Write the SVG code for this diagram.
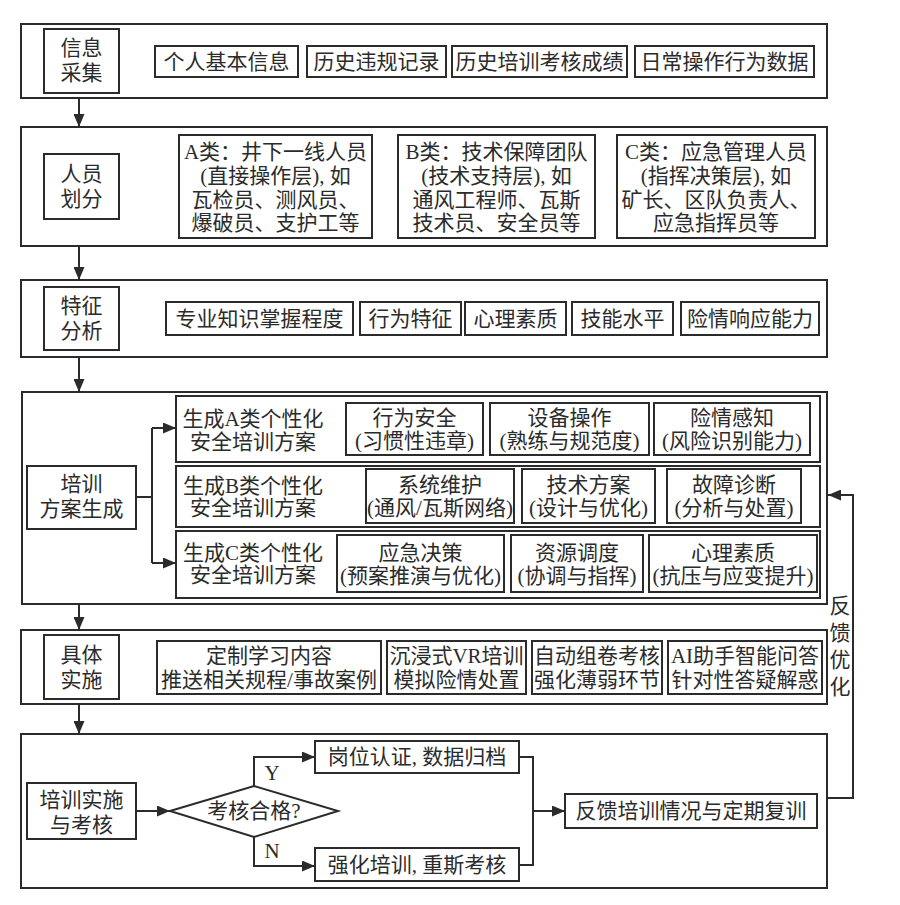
<svg xmlns="http://www.w3.org/2000/svg" width="900" height="905" viewBox="0 0 900 905">
<style>
.f{fill:#fff;stroke:#2b2b2b;stroke-width:2}
.t{font-family:'Liberation Serif','Noto Sans CJK SC',serif;font-size:21px;fill:#2b2b2b;text-anchor:middle;dominant-baseline:central}
.c{fill:none;stroke:#2b2b2b;stroke-width:2}
</style>
<defs>
<marker id="ah" markerUnits="userSpaceOnUse" markerWidth="13" markerHeight="11" refX="13" refY="5.5" orient="auto">
<path d="M0,0 L13,5.5 L0,11 z" fill="#2b2b2b"/>
</marker>
</defs>
<rect width="900" height="905" fill="#fff"/>

<g id="sec1">
<rect class="f" x="21" y="24" width="806" height="74"/>
<g id="n_info"><rect class="f" x="44" y="29" width="75" height="64"/><text class="t" x="81.5" y="48">信息</text><text class="t" x="81.5" y="73">采集</text></g>
<g id="n_i1"><rect class="f" x="155" y="46" width="143" height="31"/><text class="t" x="226.5" y="61.5">个人基本信息</text></g>
<g id="n_i2"><rect class="f" x="307" y="46" width="139" height="31"/><text class="t" x="376.5" y="61.5">历史违规记录</text></g>
<g id="n_i3"><rect class="f" x="452" y="46" width="175" height="31"/><text class="t" x="539.5" y="61.5">历史培训考核成绩</text></g>
<g id="n_i4"><rect class="f" x="635" y="46" width="179" height="31"/><text class="t" x="724.5" y="61.5">日常操作行为数据</text></g>
</g>

<g id="sec2">
<rect class="f" x="21" y="127" width="806" height="119"/>
<g id="n_person"><rect class="f" x="44" y="154" width="75" height="65"/><text class="t" x="81.5" y="174">人员</text><text class="t" x="81.5" y="199">划分</text></g>
<g id="n_A"><rect class="f" x="179" y="135" width="193" height="103"/>
<text class="t" x="275.5" y="152">A类：井下一线人员</text><text class="t" x="275.5" y="176">(直接操作层), 如</text><text class="t" x="275.5" y="200">瓦检员、测风员、</text><text class="t" x="275.5" y="223">爆破员、支护工等</text></g>
<g id="n_B"><rect class="f" x="398" y="135" width="197" height="103"/>
<text class="t" x="496.5" y="152">B类：技术保障团队</text><text class="t" x="496.5" y="176">(技术支持层), 如</text><text class="t" x="496.5" y="200">通风工程师、瓦斯</text><text class="t" x="496.5" y="223">技术员、安全员等</text></g>
<g id="n_C"><rect class="f" x="617" y="135" width="198" height="103"/>
<text class="t" x="716" y="152">C类：应急管理人员</text><text class="t" x="716" y="176">(指挥决策层), 如</text><text class="t" x="716" y="200">矿长、区队负责人、</text><text class="t" x="716" y="223">应急指挥员等</text></g>
</g>

<g id="sec3">
<rect class="f" x="21" y="280" width="806" height="77"/>
<g id="n_feat"><rect class="f" x="44" y="287" width="75" height="63"/><text class="t" x="81.5" y="306">特征</text><text class="t" x="81.5" y="331">分析</text></g>
<g id="n_f1"><rect class="f" x="166" y="302" width="187" height="33"/><text class="t" x="259.5" y="318.5">专业知识掌握程度</text></g>
<g id="n_f2"><rect class="f" x="360" y="302" width="101" height="33"/><text class="t" x="410.5" y="318.5">行为特征</text></g>
<g id="n_f3"><rect class="f" x="465" y="302" width="101" height="33"/><text class="t" x="515.5" y="318.5">心理素质</text></g>
<g id="n_f4"><rect class="f" x="572" y="302" width="101" height="33"/><text class="t" x="622.5" y="318.5">技能水平</text></g>
<g id="n_f5"><rect class="f" x="681" y="302" width="138" height="33"/><text class="t" x="750" y="318.5">险情响应能力</text></g>
</g>

<g id="sec4">
<rect class="f" x="22" y="392" width="805" height="212"/>
<g id="n_plan"><rect class="f" x="27" y="466" width="109" height="63"/><text class="t" x="81.5" y="484">培训</text><text class="t" x="81.5" y="509">方案生成</text></g>
<g id="n_rowA"><rect class="f" x="176" y="396" width="644" height="66"/>
<text class="t" x="253" y="419">生成A类个性化</text><text class="t" x="253" y="442">安全培训方案</text>
<rect class="f" x="346" y="403" width="137" height="52"/><text class="t" x="414.5" y="418">行为安全</text><text class="t" x="414.5" y="441">(习惯性违章)</text>
<rect class="f" x="490" y="403" width="159" height="52"/><text class="t" x="569.5" y="418">设备操作</text><text class="t" x="569.5" y="441">(熟练与规范度)</text>
<rect class="f" x="654" y="403" width="156" height="52"/><text class="t" x="732" y="418">险情感知</text><text class="t" x="732" y="441">(风险识别能力)</text>
</g>
<g id="n_rowB"><rect class="f" x="176" y="466" width="644" height="61"/>
<text class="t" x="253" y="486">生成B类个性化</text><text class="t" x="253" y="508">安全培训方案</text>
<rect class="f" x="366" y="469" width="148" height="54"/><text class="t" x="440" y="485">系统维护</text><text class="t" x="440" y="508">(通风/瓦斯网络)</text>
<rect class="f" x="522" y="469" width="133" height="54"/><text class="t" x="588.5" y="485">技术方案</text><text class="t" x="588.5" y="508">(设计与优化)</text>
<rect class="f" x="667" y="469" width="134" height="54"/><text class="t" x="734" y="485">故障诊断</text><text class="t" x="734" y="508">(分析与处置)</text>
</g>
<g id="n_rowC"><rect class="f" x="176" y="531" width="644" height="67"/>
<text class="t" x="253" y="553">生成C类个性化</text><text class="t" x="253" y="575">安全培训方案</text>
<rect class="f" x="337" y="535" width="167" height="57"/><text class="t" x="420.5" y="553">应急决策</text><text class="t" x="420.5" y="576">(预案推演与优化)</text>
<rect class="f" x="511" y="535" width="132" height="57"/><text class="t" x="577" y="553">资源调度</text><text class="t" x="577" y="576">(协调与指挥)</text>
<rect class="f" x="649" y="535" width="168" height="57"/><text class="t" x="733" y="553">心理素质</text><text class="t" x="733" y="576">(抗压与应变提升)</text>
</g>
</g>

<g id="sec5">
<rect class="f" x="21" y="630" width="806" height="74"/>
<g id="n_impl"><rect class="f" x="44" y="635" width="75" height="64"/><text class="t" x="81.5" y="655">具体</text><text class="t" x="81.5" y="680">实施</text></g>
<g id="n_m1"><rect class="f" x="157" y="641" width="224" height="53"/><text class="t" x="269" y="656">定制学习内容</text><text class="t" x="269" y="680">推送相关规程/事故案例</text></g>
<g id="n_m2"><rect class="f" x="387" y="641" width="139" height="53"/><text class="t" x="456.5" y="656">沉浸式VR培训</text><text class="t" x="456.5" y="680">模拟险情处置</text></g>
<g id="n_m3"><rect class="f" x="532" y="641" width="130" height="53"/><text class="t" x="597" y="656">自动组卷考核</text><text class="t" x="597" y="680">强化薄弱环节</text></g>
<g id="n_m4"><rect class="f" x="668" y="641" width="154" height="53"/><text class="t" x="745" y="656">AI助手智能问答</text><text class="t" x="745" y="680">针对性答疑解惑</text></g>
</g>

<g id="sec6">
<rect class="f" x="21" y="734" width="806" height="154"/>
<g id="n_exam"><rect class="f" x="27" y="783" width="109" height="56"/><text class="t" x="81.5" y="800">培训实施</text><text class="t" x="81.5" y="825">与考核</text></g>
<g id="n_dec"><path class="f" d="M170,811 L254,786 L338,811 L254,837 z"/><text class="t" x="254" y="811">考核合格?</text></g>
<g id="n_pass"><rect class="f" x="315" y="741" width="204" height="32"/><text class="t" x="417" y="757">岗位认证, 数据归档</text></g>
<g id="n_fail"><rect class="f" x="315" y="848" width="204" height="33"/><text class="t" x="417" y="864.5">强化培训, 重斯考核</text></g>
<g id="n_fb"><rect class="f" x="565" y="794" width="252" height="34"/><text class="t" x="691" y="811">反馈培训情况与定期复训</text></g>
</g>

<g id="connectors">
<line class="c" x1="79" y1="98" x2="79" y2="127" marker-end="url(#ah)"/>
<line class="c" x1="79" y1="246" x2="79" y2="280" marker-end="url(#ah)"/>
<line class="c" x1="79" y1="357" x2="79" y2="392" marker-end="url(#ah)"/>
<line class="c" x1="79" y1="604" x2="79" y2="630" marker-end="url(#ah)"/>
<line class="c" x1="79" y1="704" x2="79" y2="734" marker-end="url(#ah)"/>
<path class="c" d="M136,497 H152"/>
<path class="c" d="M152,428 V563"/>
<path class="c" d="M152,428 H176" marker-end="url(#ah)"/>
<path class="c" d="M152,563 H176" marker-end="url(#ah)"/>
<path class="c" d="M136,811 H170" marker-end="url(#ah)"/>
<path class="c" d="M254,786 V757 H315" marker-end="url(#ah)"/>
<path class="c" d="M254,837 V866 H315" marker-end="url(#ah)"/>
<text class="t" x="272" y="773">Y</text>
<text class="t" x="272" y="851">N</text>
<path class="c" d="M519,757 H533 V865 H519"/>
<path class="c" d="M533,811 H565" marker-end="url(#ah)"/>
<path class="c" d="M827,798 H853 V495 H828" marker-end="url(#ah)"/>
<text class="t" x="840" y="606">反</text>
<text class="t" x="840" y="633">馈</text>
<text class="t" x="840" y="660">优</text>
<text class="t" x="840" y="687">化</text>
</g>
</svg>
